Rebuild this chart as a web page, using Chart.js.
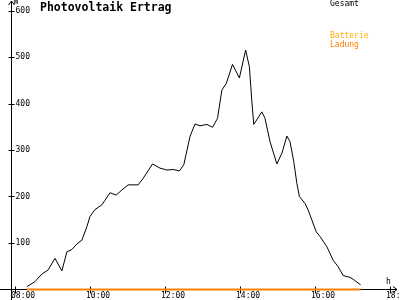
<!DOCTYPE html>
<html lang="de">
<head>
    <meta charset="UTF-8">
    <title>Photovoltaik Ertrag</title>
    <script src="https://cdn.jsdelivr.net/npm/chart.js"></script>
    <style>
        body { margin: 0; background: #fff; }
        #pvChart { display: block; }
    </style>
</head>
<body>
    <canvas id="pvChart" width="400" height="300"></canvas>
    <script>
        // Messzeiten und Leistung (W)
        const zeiten = ['08:19','08:32','08:40','08:45','08:53','09:04','09:15','09:23','09:31','09:39',
            '09:47','09:55','10:00','10:08','10:19','10:24','10:32','10:42','10:51','11:01',
            '11:17','11:25','11:40','11:52','12:03','12:13','12:23','12:30','12:40','12:48',
            '12:56','13:07','13:16','13:24','13:31','13:38','13:48','13:59','14:09','14:15',
            '14:19','14:22','14:35','14:40','14:48','14:59','15:07','15:15','15:20','15:26',
            '15:31','15:35','15:44','15:49','16:02','16:08','16:19','16:29','16:37','16:45',
            '16:56','17:01','17:13'];
        const gesamt = [6, 17, 29, 35, 42, 67, 40, 81, 86, 98,
            106, 135, 157, 172, 182, 192, 208, 203, 214, 225,
            225, 239, 270, 261, 257, 258, 255, 268, 329, 356,
            352, 355, 349, 368, 429, 443, 484, 455, 515, 479,
            404, 355, 382, 368, 318, 270, 293, 330, 318, 275,
            228, 200, 185, 171, 124, 114, 92, 63, 49, 30,
            26, 22, 10];
        const ladungZeiten = ['08:19', '17:13'];
        const ladung = [0, 0];

        const yTicks = [100, 200, 300, 400, 500, 600];
        const xTicks = ['08:00', '10:00', '12:00', '14:00', '16:00', '18:00'];

        const minuten = t => { const [h, m] = t.split(':').map(Number); return h * 60 + m; };

        const FONT = '"DejaVu Sans Mono", monospace';

        // Achsen im alten Plotter-Stil zeichnen
        const achsen = {
            id: 'achsen',
            beforeDatasetsDraw(chart) {
                const ctx = chart.ctx;
                const xs = chart.scales.x, ys = chart.scales.y;
                const y0 = Math.round(ys.getPixelForValue(0)) + 0.5;
                const x0 = Math.round(xs.getPixelForValue(minuten('07:54'))) + 0.5;
                ctx.save();
                ctx.strokeStyle = '#000';
                ctx.fillStyle = '#000';
                ctx.lineWidth = 1;
                ctx.beginPath();
                // x-Achse mit Pfeil
                ctx.moveTo(0, y0); ctx.lineTo(397, y0);
                ctx.moveTo(393, y0 - 3); ctx.lineTo(397, y0); ctx.lineTo(393, y0 + 3);
                // y-Achse mit Pfeil
                ctx.moveTo(x0, 300); ctx.lineTo(x0, 1);
                ctx.moveTo(x0 - 3, 5); ctx.lineTo(x0, 1); ctx.lineTo(x0 + 3, 5);
                yTicks.forEach(v => {
                    const py = Math.round(ys.getPixelForValue(v)) + 0.5;
                    ctx.moveTo(x0 - 3, py); ctx.lineTo(x0 + 3, py);
                });
                xTicks.forEach(t => {
                    const px = Math.round(xs.getPixelForValue(minuten(t))) + 0.5;
                    ctx.moveTo(px, y0 - 3); ctx.lineTo(px, y0 + 4);
                });
                ctx.stroke();

                ctx.font = '8px ' + FONT;
                ctx.textBaseline = 'middle';
                ctx.textAlign = 'left';
                yTicks.forEach(v => {
                    ctx.fillText(String(v), x0 + 4, ys.getPixelForValue(v));
                });
                xTicks.forEach(t => {
                    ctx.fillText(t, xs.getPixelForValue(minuten(t)) - 4, y0 + 6);
                });
                ctx.fillText('W', x0 + 2, 2);
                ctx.fillText('h', 386, y0 - 8);

                ctx.font = 'bold 11.5px ' + FONT;
                ctx.fillText('Photovoltaik Ertrag', 40, 8);

                ctx.font = '8px ' + FONT;
                ctx.fillText('Gesamt', 330, 4);
                ctx.fillStyle = '#ffad00';
                ctx.fillText('Batterie', 330, 36);
                ctx.fillStyle = '#ff8000';
                ctx.fillText('Ladung', 330, 45);
                ctx.restore();
            }
        };

        new Chart(document.getElementById('pvChart'), {
            type: 'line',
            data: {
                datasets: [{
                    label: 'Gesamt',
                    data: zeiten.map((t, i) => ({ x: minuten(t), y: gesamt[i] })),
                    borderColor: '#000',
                    borderWidth: 1,
                    pointRadius: 0,
                    tension: 0
                }, {
                    label: 'Ladung',
                    data: ladungZeiten.map((t, i) => ({ x: minuten(t), y: ladung[i] })),
                    borderColor: '#ff8000',
                    borderWidth: 2,
                    pointRadius: 0
                }]
            },
            options: {
                responsive: false,
                animation: false,
                layout: { padding: 0 },
                scales: {
                    x: { type: 'linear', display: false, min: 456, max: 1096 },
                    y: { display: false, min: -22.6, max: 622.6 }
                },
                plugins: {
                    legend: { display: false },
                    tooltip: { enabled: false }
                }
            },
            plugins: [achsen]
        });
    </script>
</body>
</html>
